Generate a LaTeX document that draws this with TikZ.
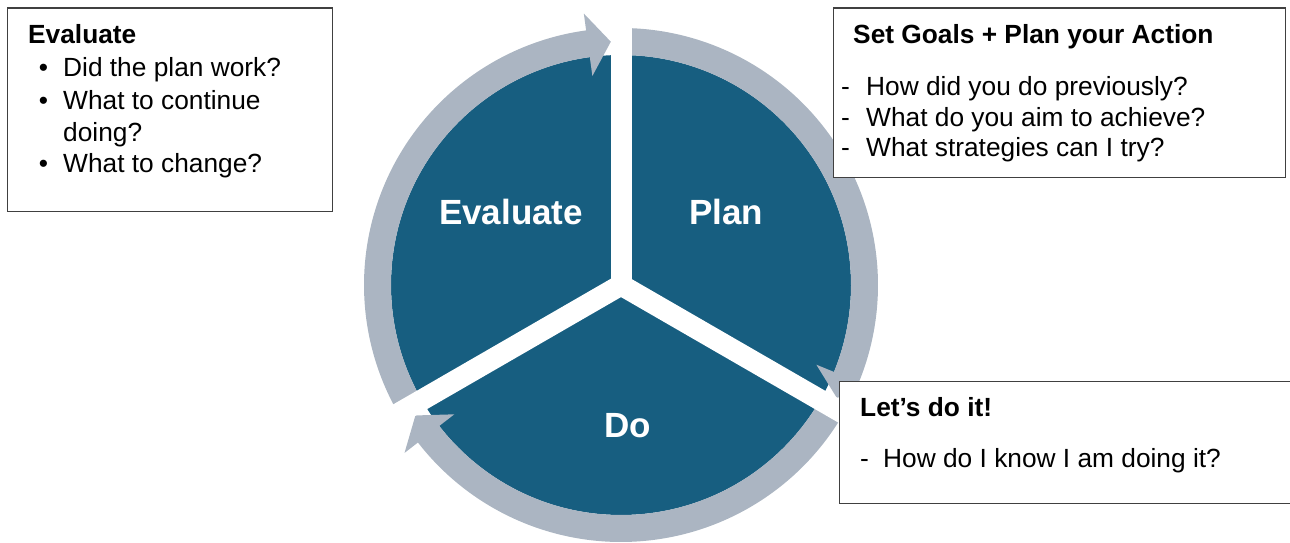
\documentclass[tikz,border=0pt]{standalone}
\usepackage{fontspec}
\setmainfont{Liberation Sans}
\usetikzlibrary{calc}
\definecolor{cycblue}{HTML}{175E80}
\definecolor{cycgray}{HTML}{ABB5C2}
\definecolor{boxline}{HTML}{404040}
\begin{document}
\begin{tikzpicture}[x=1pt,y=1pt,
  box/.style={draw=boxline, line width=1.3pt, fill=white, inner sep=0pt, anchor=north west},
  boxtxt/.style={anchor=base west, inner sep=0pt, font=\fontsize{26.3}{30}\selectfont},
  boxhead/.style={anchor=base west, inner sep=0pt, font=\fontsize{26.3}{30}\selectfont\bfseries},
  bul/.style={anchor=base, inner sep=0pt, font=\fontsize{26.3}{30}\selectfont},
  biglbl/.style={anchor=base, inner sep=0pt, text=white, font=\fontsize{35}{40}\selectfont\bfseries},
  gapstrip/.style={draw=white, line width=21pt, line cap=round}]
\useasboundingbox (0,0) rectangle (1290,543);
\coordinate (c) at (621,258);
% blue disc
\fill[cycblue] (c) circle[radius=230pt];
% gray ring arrows
\begin{scope}[shift={(c)}]
\foreach \s/\b/\t in {210/97.8/92.4, 90/-22.2/-27.6, -30/-142.2/-147.6}{
  \fill[cycgray] (\s:230pt) arc[start angle=\s, end angle=\b, radius=230pt]
    -- (\b:211pt) -- (\t:243.5pt) -- (\b:274pt) -- (\b:257pt)
    arc[start angle=\b, end angle=\s, radius=257pt] -- cycle;
}
\end{scope}
% white gaps
\coordinate (g1) at ($(c)+(90:290pt)$);
\coordinate (g2) at ($(c)+(210:290pt)$);
\coordinate (g3) at ($(c)+(330:290pt)$);
\draw[gapstrip] (c) -- (g1);
\draw[gapstrip] (c) -- (g2);
\draw[gapstrip] (c) -- (g3);
% big labels
\node[biglbl] (lev) at (511,318.5) {Evaluate};
\node[biglbl] (lpl) at (726,318.5) {Plan};
\node[biglbl] (ldo) at (627.5,105) {Do};
% boxes
\node[box, minimum width=325.5pt, minimum height=203.5pt] (evbox) at (6.5,535.5) {};
\node[box, minimum width=451.5pt, minimum height=169.5pt] (plbox) at (833,535.5) {};
\node[box, minimum width=461.5pt, minimum height=122pt] (dobox) at (838.5,162) {};
% evaluate box text
\node[boxhead] (evh) at (28,499) {Evaluate};
\node[bul] (evb1) at (43.5,466.5) {\textbullet};
\node[bul] (evb2) at (43.5,433) {\textbullet};
\node[bul] (evb3) at (43.5,370) {\textbullet};
\node[boxtxt] (evt1) at (63,466.5) {Did the plan work?};
\node[boxtxt] (evt2) at (63,433) {What to continue};
\node[boxtxt] (evt3) at (63,401.5) {doing?};
\node[boxtxt] (evt4) at (63,370) {What to change?};
% plan box text
\node[boxhead] (plh) at (853,499) {Set Goals + Plan your Action};
\node[boxtxt] (pld1) at (841,447) {-};
\node[boxtxt] (pld2) at (841,416) {-};
\node[boxtxt] (pld3) at (841,386) {-};
\node[boxtxt] (plt1) at (866,447) {How did you do previously?};
\node[boxtxt] (plt2) at (866,416) {What do you aim to achieve?};
\node[boxtxt] (plt3) at (866,386) {What strategies can I try?};
% do box text
\node[boxhead] (doh) at (860,126) {Let’s do it!};
\node[boxtxt] (dod1) at (860,75) {-};
\node[boxtxt] (dot1) at (883,75) {How do I know I am doing it?};
\end{tikzpicture}
\end{document}
